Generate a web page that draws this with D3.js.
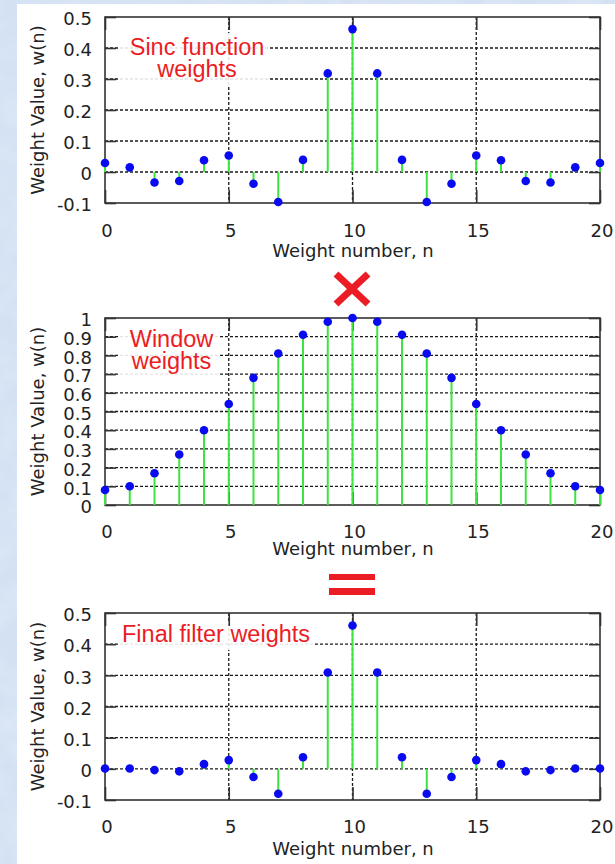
<!DOCTYPE html>
<html><head><meta charset="utf-8">
<script src="https://cdn.jsdelivr.net/npm/d3@7"></script>
<style>html,body{margin:0;padding:0;overflow:hidden;background:#d6e3f3}</style>
</head><body>
<svg id="c" width="615" height="864"></svg>
<script>
// ---------- data ----------
const weightNumbers = [0,1,2,3,4,5,6,7,8,9,10,11,12,13,14,15,16,17,18,19,20];
const sincWeights   = [0.029,0.015,-0.034,-0.029,0.038,0.053,-0.038,-0.097,0.039,0.318,0.461,0.318,0.039,-0.097,-0.038,0.053,0.038,-0.029,-0.034,0.015,0.029];
const windowWeights = [0.08,0.10,0.17,0.27,0.40,0.54,0.68,0.81,0.91,0.98,1.00,0.98,0.91,0.81,0.68,0.54,0.40,0.27,0.17,0.10,0.08];
const finalWeights  = [0.001,0.001,-0.004,-0.008,0.015,0.028,-0.026,-0.080,0.037,0.309,0.460,0.309,0.037,-0.080,-0.026,0.028,0.015,-0.008,-0.004,0.001,0.001];
const xTicks = [0,5,10,15,20];
const xGridTicks = [5,10,15];
const sincYTicks = [-0.1,0,0.1,0.2,0.3,0.4,0.5];
const windowYTicks = [0,0.1,0.2,0.3,0.4,0.5,0.6,0.7,0.8,0.9,1];
const finalYTicks = [-0.1,0,0.1,0.2,0.3,0.4,0.5];
const yTitle = "Weight Value, w(n)";
const xTitle = "Weight number, n";
const sincLabel = ["Sinc function","weights"];
const windowLabel = ["Window","weights"];
const finalLabel = ["Final filter weights"];

// ---------- drawing ----------
const svg = d3.select("#c");
const defs = svg.append("defs");
const filt = defs.append("filter").attr("id","tex").attr("x",0).attr("y",0).attr("width","100%").attr("height","100%");
filt.append("feTurbulence").attr("type","fractalNoise").attr("baseFrequency","0.035").attr("numOctaves",3).attr("seed",4).attr("result","n");
filt.append("feColorMatrix").attr("in","n").attr("type","matrix")
  .attr("values","0 0 0 0 0.80  0 0 0 0 0.87  0 0 0 0 0.96  0 0 0 0.9 -0.25");
svg.append("rect").attr("width",615).attr("height",864).attr("fill","#d3e1f3");
svg.append("rect").attr("width",615).attr("height",864).attr("filter","url(#tex)").attr("opacity",0.8);
svg.append("rect").attr("x",17).attr("y",4).attr("width",598).attr("height",860).attr("fill","#ffffff");

const x = d3.scaleLinear().domain([0,20]).range([105,600]);
const AX = "DejaVu Sans, sans-serif";
const RED = "#ec1c24";

function panel(cfg){
  const g = svg.append("g");
  const y = d3.scaleLinear().domain(cfg.yDomain).range([cfg.bottom, cfg.top]);
  const grid = g.append("g").attr("stroke","#1a1a1a").attr("stroke-width",1.3).attr("stroke-dasharray","3,2");
  grid.selectAll("line.h").data(cfg.yTicks.filter(t => t > cfg.yDomain[0] && t < cfg.yDomain[1]))
    .join("line").attr("class","h").attr("x1",105).attr("x2",600).attr("y1",d=>y(d)).attr("y2",d=>y(d));
  grid.selectAll("line.v").data(xGridTicks)
    .join("line").attr("class","v").attr("y1",cfg.top).attr("y2",cfg.bottom).attr("x1",d=>x(d)).attr("x2",d=>x(d));
  // label box
  g.append("rect").attr("x",cfg.box[0]).attr("y",cfg.box[1]).attr("width",cfg.box[2]).attr("height",cfg.box[3])
    .attr("fill","#ffffff").attr("opacity",0.88);
  g.append("text").attr("font-family","Liberation Sans, Arial, sans-serif").attr("font-size",23.5).attr("fill",RED)
    .attr("text-anchor",cfg.labelAnchor)
    .selectAll("tspan").data(cfg.label).join("tspan")
    .attr("x",cfg.labelX).attr("y",(d,i)=>cfg.labelY[i]).text(d=>d);
  // frame
  g.append("rect").attr("x",105).attr("y",cfg.top).attr("width",495).attr("height",cfg.bottom-cfg.top)
    .attr("fill","none").attr("stroke","#333").attr("stroke-width",1.6);
  // axes
  const styleAxis = s => { s.select(".domain").remove(); s.selectAll(".tick line").attr("stroke","#333").attr("stroke-width",1.6); };
  const la = g.append("g").attr("transform","translate(105,0)")
    .call(d3.axisLeft(y).tickValues(cfg.yTicks).tickFormat(d=>String(d)).tickSize(-11).tickPadding(13));
  styleAxis(la);
  la.selectAll("text").attr("y",2).attr("font-family",AX).attr("font-size",18).attr("fill","#222");
  const ra = g.append("g").attr("transform","translate(600,0)")
    .call(d3.axisRight(y).tickValues(cfg.yTicks).tickFormat("").tickSize(-11));
  styleAxis(ra);
  const ba = g.append("g").attr("transform",`translate(0,${cfg.bottom})`)
    .call(d3.axisBottom(x).tickValues(xTicks).tickFormat(d=>String(d)).tickSize(-13));
  styleAxis(ba);
  ba.selectAll("text").attr("y",cfg.tickBase-cfg.bottom).attr("dy",null).attr("x",1.5)
    .attr("font-family",AX).attr("font-size",18).attr("fill","#222");
  const ta = g.append("g").attr("transform",`translate(0,${cfg.top})`)
    .call(d3.axisTop(x).tickValues(xTicks).tickFormat("").tickSize(-13));
  styleAxis(ta);
  // stems and dots
  g.append("g").selectAll("line").data(weightNumbers).join("line")
    .attr("x1",d=>x(d)).attr("x2",d=>x(d)).attr("y1",y(0)).attr("y2",(d,i)=>y(cfg.data[i]))
    .attr("stroke","#3ee43e").attr("stroke-width",2);
  g.append("g").selectAll("circle").data(weightNumbers).join("circle")
    .attr("cx",d=>x(d)).attr("cy",(d,i)=>y(cfg.data[i])).attr("r",4.3).attr("fill","#0a0af0");
  // titles
  g.append("text").attr("transform",`translate(44,${(cfg.top+cfg.bottom)/2}) rotate(-90)`)
    .attr("text-anchor","middle").attr("font-family",AX).attr("font-size",18).attr("fill","#222").text(yTitle);
  g.append("text").attr("x",353).attr("y",cfg.titleBase).attr("text-anchor","middle")
    .attr("font-family",AX).attr("font-size",18).attr("fill","#222").text(xTitle);
}

panel({yDomain:[-0.1,0.5], top:17, bottom:203, yTicks:sincYTicks, data:sincWeights,
  box:[118,33,152,52], label:sincLabel, labelAnchor:"middle", labelX:197, labelY:[55,77],
  tickBase:237, titleBase:257});
panel({yDomain:[0,1], top:318, bottom:505, yTicks:windowYTicks, data:windowWeights,
  box:[118,326,100,52], label:windowLabel, labelAnchor:"middle", labelX:171.5, labelY:[347,369],
  tickBase:538, titleBase:555});
panel({yDomain:[-0.1,0.5], top:613, bottom:800, yTicks:finalYTicks, data:finalWeights,
  box:[118,622,197,28], label:finalLabel, labelAnchor:"start", labelX:122, labelY:[642],
  tickBase:833, titleBase:855});

// operator symbols
const ops = svg.append("g").attr("stroke",RED).attr("stroke-width",7);
ops.append("line").attr("x1",336).attr("y1",274).attr("x2",368).attr("y2",304);
ops.append("line").attr("x1",368).attr("y1",274).attr("x2",336).attr("y2",304);
svg.append("rect").attr("x",329).attr("y",574).attr("width",46).attr("height",6).attr("fill",RED);
svg.append("rect").attr("x",329).attr("y",588).attr("width",46).attr("height",7).attr("fill",RED);
</script>
</body></html>
